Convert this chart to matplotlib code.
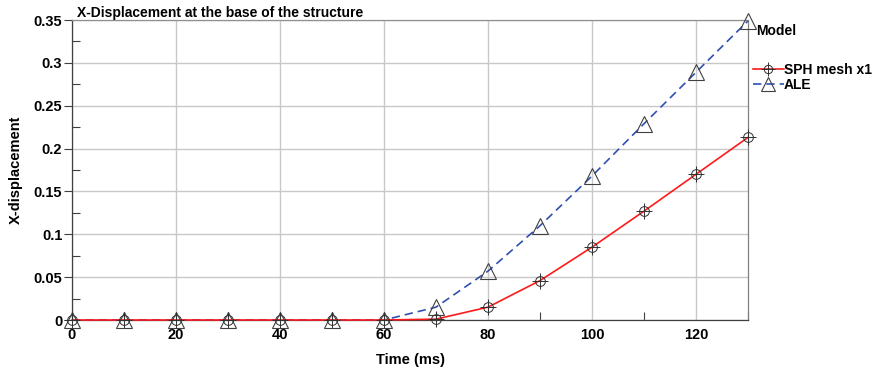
import matplotlib
matplotlib.use("Agg")
import matplotlib.pyplot as plt
from matplotlib.ticker import MultipleLocator
from matplotlib.lines import Line2D

plt.rcParams['font.family'] = ['Liberation Sans', 'DejaVu Sans']

time_ms = [0, 10, 20, 30, 40, 50, 60, 70, 80, 90, 100, 110, 120, 130]
sph = [0, 0, 0, 0, 0, 0, 0, 0.001, 0.015, 0.046, 0.085, 0.127, 0.170, 0.213]
ale = [0, 0, 0, 0, 0, 0, 0, 0.015, 0.057, 0.110, 0.168, 0.229, 0.289, 0.349]
series_names = ["SPH mesh x1", "ALE"]

fig = plt.figure(figsize=(8.75, 3.68), dpi=100)
ax = fig.add_axes([72/875, 48/368, 676/875, 300/368])

red = '#ff1a1a'
blue = '#3050b0'

l_ale, = ax.plot(time_ms, ale, color=blue, lw=1.2, ls=(0, (5, 3)), zorder=3, clip_on=False)
m_ale, = ax.plot(time_ms, ale, ls='none', marker='^', ms=11, mfc='none', mec='#404040', mew=0.8,
                 zorder=4, clip_on=False)
l_sph, = ax.plot(time_ms, sph, color=red, lw=1.2, zorder=3, clip_on=False)
m_sph1, = ax.plot(time_ms, sph, ls='none', marker='o', ms=7, mfc='none', mec='#303030', mew=0.7,
                  zorder=5, clip_on=False)
m_sph2, = ax.plot(time_ms, sph, ls='none', marker='+', ms=11, mec='#303030', mew=0.7,
                  zorder=5, clip_on=False)

ax.set_xlim(0, 130)
ax.set_ylim(0, 0.35)
ax.xaxis.set_major_locator(MultipleLocator(20))
ax.xaxis.set_minor_locator(MultipleLocator(10))
ax.yaxis.set_major_locator(MultipleLocator(0.05))
ax.yaxis.set_minor_locator(MultipleLocator(0.025))

def yfmt(v, pos):
    return f"{v:.3f}".rstrip('0').rstrip('.')
ax.yaxis.set_major_formatter(plt.FuncFormatter(yfmt))

ax.grid(True, which='major', color='#c8c8c8', lw=1.0)
ax.set_axisbelow(True)

ax.tick_params(axis='y', which='major', direction='out', length=6, width=0.8, color='#404040',
               labelsize=10.5, pad=1)
ax.tick_params(axis='y', which='minor', direction='in', length=6, width=0.8, color='#404040')
ax.tick_params(axis='x', which='major', direction='in', length=0, labelsize=10.5, pad=6)
ax.tick_params(axis='x', which='minor', direction='in', length=6, width=0.8, color='#404040')
for lab in ax.get_xticklabels() + ax.get_yticklabels():
    lab.set_fontweight('bold')

ax.spines['top'].set_color('#909090')
ax.spines['right'].set_color('#808080')
ax.spines['left'].set_color('#404040')
ax.spines['bottom'].set_color('#404040')
for s in ax.spines.values():
    s.set_linewidth(0.9)

ax.set_xlabel('Time (ms)', fontsize=10.5, fontweight='bold', labelpad=8)
ax.set_ylabel('X-displacement', fontsize=10.5, fontweight='bold', labelpad=8)
ax.set_title('X-Displacement at the base of the structure', fontsize=10, fontweight='bold',
             loc='left', pad=2, x=0.008)

fig.text(756/875, 1 - 31/368, 'Model', fontsize=10, fontweight='bold', va='center', ha='left')

h_sph = (Line2D([], [], color=red, lw=1.2),
         Line2D([], [], ls='none', marker='o', ms=6, mfc='none', mec='#303030', mew=0.7),
         Line2D([], [], ls='none', marker='+', ms=10, mec='#303030', mew=0.7))
h_ale = (Line2D([], [], color=blue, lw=1.2, ls=(0, (5, 3))),
         Line2D([], [], ls='none', marker='^', ms=10, mfc='none', mec='#404040', mew=0.8))
leg = fig.legend([h_sph, h_ale], series_names, loc='upper left',
                 bbox_to_anchor=(749/875, 1 - 59/368), frameon=False,
                 prop={'weight': 'bold', 'size': 10}, handlelength=2.2, handletextpad=0.0,
                 labelspacing=0.05, borderaxespad=0, borderpad=0.3)

fig.savefig('out.png', dpi=100)
